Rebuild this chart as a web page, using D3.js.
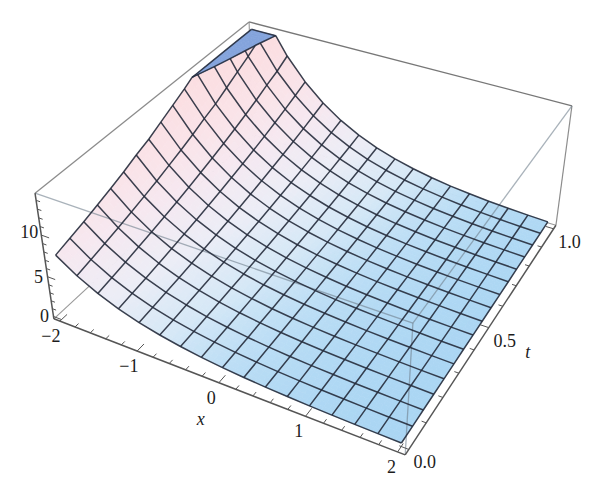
<!DOCTYPE html>
<html><head><meta charset="utf-8">
<script src="https://cdn.jsdelivr.net/npm/d3@7/dist/d3.min.js"></script>
<style>html,body{margin:0;padding:0;background:#fff}svg{display:block}
text{font-family:"Liberation Serif","Times New Roman",serif;font-size:18px;fill:#1c1c1c}</style>
</head><body><svg id="c" width="600" height="493"></svg>
<script>
// ---- data ----
const xValues=[-2,-1.75,-1.5,-1.25,-1,-0.75,-0.5,-0.25,0,0.25,0.5,0.75,1,1.25,1.5,1.75,2];
const tValues=[0,0.0625,0.125,0.1875,0.25,0.3125,0.375,0.4375,0.5,0.5625,0.625,0.6875,0.75,0.8125,0.875,0.9375,1];
const zRows=[
[7.39,5.75,4.48,3.49,2.72,2.12,1.65,1.28,1,.779,.607,.472,.368,.287,.223,.174,.135],
[7.87,6.13,4.77,3.72,2.89,2.25,1.75,1.37,1.06,.829,.646,.503,.392,.305,.237,.185,.144],
[8.37,6.52,5.08,3.96,3.08,2.40,1.87,1.46,1.13,.882,.687,.535,.417,.325,.253,.197,.153],
[8.92,6.94,5.41,4.21,3.28,2.55,1.99,1.55,1.21,.939,.732,.570,.444,.346,.269,.210,.163],
[9.49,7.39,5.75,4.48,3.49,2.72,2.12,1.65,1.28,1,.779,.607,.472,.368,.287,.223,.174],
[10.1,7.87,6.13,4.77,3.72,2.89,2.25,1.75,1.37,1.06,.829,.646,.503,.392,.305,.237,.185],
[10.8,8.37,6.52,5.08,3.96,3.08,2.40,1.87,1.46,1.13,.882,.687,.535,.417,.325,.253,.197],
[11.4,8.92,6.94,5.41,4.21,3.28,2.55,1.99,1.55,1.21,.939,.732,.570,.444,.346,.269,.210],
[12.2,9.49,7.39,5.75,4.48,3.49,2.72,2.12,1.65,1.28,1,.779,.607,.472,.368,.287,.223],
[13.0,10.1,7.87,6.13,4.77,3.72,2.89,2.25,1.75,1.37,1.06,.829,.646,.503,.392,.305,.237],
[13.8,10.8,8.37,6.52,5.08,3.96,3.08,2.40,1.87,1.46,1.13,.882,.687,.535,.417,.325,.253],
[14.7,11.4,8.92,6.94,5.41,4.21,3.28,2.55,1.99,1.55,1.21,.939,.732,.570,.444,.346,.269],
[15.7,12.2,9.49,7.39,5.75,4.48,3.49,2.72,2.12,1.65,1.28,1,.779,.607,.472,.368,.287],
[16.7,13.0,10.1,7.87,6.13,4.77,3.72,2.89,2.25,1.75,1.37,1.06,.829,.646,.503,.392,.305],
[17.7,13.8,10.8,8.37,6.52,5.08,3.96,3.08,2.40,1.87,1.46,1.13,.882,.687,.535,.417,.325],
[18.9,14.7,11.4,8.92,6.94,5.41,4.21,3.28,2.55,1.99,1.55,1.21,.939,.732,.570,.444,.346],
[20.1,15.7,12.2,9.49,7.39,5.75,4.48,3.49,2.72,2.12,1.65,1.28,1,.779,.607,.472,.368]
];
const zClip=14.4;
const xTicks=[-2,-1,0,1,2];
const tTicks=[0,0.5,1];
const zTicks=[0,5,10];
const xMinor=d3.range(-2,2.01,0.2);
const tMinor=d3.range(0,1.01,0.1);
const zMinor=d3.range(0,15,1);
const xTickText=["\u22122","\u22121","0","1","2"];
const tTickText=["0.0","0.5","1.0"];
const zTickText=["0","5","10"];

// ---- scales and view ----
const X=d3.scaleLinear().domain([-2.08,2.08]).range([0,1]);
const T=d3.scaleLinear().domain([-0.02,1.02]).range([0,1]);
const Z=d3.scaleLinear().domain([-0.3,14.8]).range([0,1]);
// view calibration: cube corner (u,v,w) -> screen position
const view=[[0,0,0,54,319],[1,0,0,405,455],[1,1,0,556,225],[0,0,1,35,193],[1,0,1,413,323],[1,1,1,572,106],[0,1,1,249,22]];
function solveView(pts){
  const A=[],b=[];
  pts.forEach(([u,v,w,sx,sy])=>{
    const a=sx/600,c=sy/600;
    A.push([u,v,w,1,0,0,0,0,-a*u,-a*v,-a*w]);b.push(a);
    A.push([0,0,0,0,u,v,w,1,-c*u,-c*v,-c*w]);b.push(c);
  });
  const n=11,M=d3.range(n).map(i=>d3.range(n+1).map(j=>{
    let s=0;A.forEach((r,k)=>{s+=r[i]*(j<n?r[j]:b[k]);});return s;}));
  for(let i=0;i<n;i++){
    let p=i;for(let r=i+1;r<n;r++)if(Math.abs(M[r][i])>Math.abs(M[p][i]))p=r;
    [M[i],M[p]]=[M[p],M[i]];
    for(let r=0;r<n;r++)if(r!==i){const f=M[r][i]/M[i][i];for(let c=i;c<=n;c++)M[r][c]-=f*M[i][c];}
  }
  return M.map((r,i)=>r[n]/r[i]);
}
const P=solveView(view);
function projectN(u,v,w){
  const d=P[8]*u+P[9]*v+P[10]*w+1;
  return [600*(P[0]*u+P[1]*v+P[2]*w+P[3])/d,600*(P[4]*u+P[5]*v+P[6]*w+P[7])/d];
}
const project=(x,t,z)=>projectN(X(x),T(t),Z(z));
const pp=p=>project(p.x,p.t,p.z);

const colour=d3.scaleLinear()
  .domain([0.1,1,2,4,7,10,15])
  .range(["#a9d5f3","#bddef5","#d6e8f6","#ecedf6","#f6e8f0","#fae3e8","#fbdde0"])
  .interpolate(d3.interpolateRgb).clamp(true);

const svg=d3.select("#c");
const line=d3.line();
const edge=(g,a,b,col,w,op)=>g.append("path").attr("d",line([projectN(...a),projectN(...b)]))
  .attr("fill","none").attr("stroke",col).attr("stroke-width",w).attr("stroke-opacity",op);

// back box edges
const back=svg.append("g");
edge(back,[0,0,0],[0,1,0],"#999",1.1,1);
edge(back,[0,1,0],[1,1,0],"#999",1.1,1);
edge(back,[0,1,0],[0,1,1],"#999",1.1,1);
edge(back,[0,0,1],[0,1,1],"#8c8c8c",1.3,1);
edge(back,[0,1,1],[1,1,1],"#777",1.3,1);
edge(back,[1,1,0],[1,1,1],"#8c8c8c",1.2,1);

// surface
const lerp=(a,b,s)=>({x:a.x+(b.x-a.x)*s,t:a.t+(b.t-a.t)*s,z:a.z+(b.z-a.z)*s});
function clipPoly(poly){
  const below=[],above=[];
  poly.forEach((p,k)=>{
    const q=poly[(k+1)%poly.length];
    const pIn=p.z<=zClip,qIn=q.z<=zClip;
    (pIn?below:above).push(p);
    if(pIn!==qIn){const c=lerp(p,q,(zClip-p.z)/(q.z-p.z));below.push(c);above.push(c);}
  });
  return {below,above};
}
const node=(i,j)=>({x:xValues[i],t:tValues[j],z:zRows[j][i]});
const sub=4;
const surf=svg.append("g");
const capCells=[];
for(let j=tValues.length-2;j>=0;j--){
  for(let i=0;i<xValues.length-1;i++){
    const a=node(i,j),b=node(i+1,j),c=node(i+1,j+1),d=node(i,j+1);
    const at=(s,r)=>lerp(lerp(a,b,s),lerp(d,c,s),r);
    for(let r=sub-1;r>=0;r--)for(let s=0;s<sub;s++){
      const poly=[at(s/sub,r/sub),at((s+1)/sub,r/sub),at((s+1)/sub,(r+1)/sub),at(s/sub,(r+1)/sub)];
      const {below,above}=clipPoly(poly);
      if(below.length>2){
        const mz=d3.mean(below,p=>p.z),col=colour(mz);
        surf.append("path").attr("d",line(below.map(pp))+"Z")
          .attr("fill",col).attr("stroke",col).attr("stroke-width",0.7);
      }
      if(above.length>2)capCells.push(above.map(p=>({x:p.x,t:p.t,z:zClip})));
    }
  }
}
const capG=svg.append("g");
capCells.forEach(poly=>capG.append("path").attr("d",line(poly.map(pp))+"Z")
  .attr("fill","#84a4dc").attr("stroke","#84a4dc").attr("stroke-width",0.7));

// see-through front box edges
const front=svg.append("g");
edge(front,[0,0,1],[1,0,1],"#6f7f8c",1.3,0.6);
edge(front,[1,0,1],[1,1,1],"#6f7f8c",1.3,0.6);
edge(front,[1,0,0],[1,0,1],"#6f7f8c",1.3,0.6);

// mesh
const meshG=svg.append("g").attr("fill","none").attr("stroke","#262c3c").attr("stroke-opacity",0.9)
  .attr("stroke-width",1.5).attr("stroke-linejoin","round");
function drawMesh(nodes,isBorder){
  let below=[],above=[];
  const flushB=()=>{if(below.length>1)meshG.append("path").attr("d",line(below.map(pp)));below=[];};
  const flushA=()=>{if(above.length>1&&isBorder)meshG.append("path").attr("d",line(above.map(p=>pp({x:p.x,t:p.t,z:zClip}))));above=[];};
  nodes.forEach((p,k)=>{
    const inside=p.z<=zClip;
    if(k>0){
      const q=nodes[k-1],qIn=q.z<=zClip;
      if(inside!==qIn){
        const c=lerp(q,p,(zClip-q.z)/(p.z-q.z));
        below.push(c);above.push(c);
        if(qIn)flushB();else flushA();
        if(qIn)above=[c];else below=[c];
      }
    }
    (inside?below:above).push(p);
  });
  flushB();flushA();
}
xValues.forEach((_,i)=>drawMesh(tValues.map((_,j)=>node(i,j)),i===0||i===xValues.length-1));
tValues.forEach((_,j)=>drawMesh(xValues.map((_,i)=>node(i,j)),j===0||j===tValues.length-1));
// clip boundary
(function(){
  const pts=[];
  tValues.forEach((_,j)=>{for(let i=0;i<xValues.length-1;i++){
    const a=node(i,j),b=node(i+1,j);
    if((a.z>zClip)!==(b.z>zClip))pts.push(lerp(a,b,(zClip-a.z)/(b.z-a.z)));}});
  xValues.forEach((_,i)=>{for(let j=0;j<tValues.length-1;j++){
    const a=node(i,j),b=node(i,j+1);
    if((a.z>zClip)!==(b.z>zClip))pts.push(lerp(a,b,(zClip-a.z)/(b.z-a.z)));}});
  pts.sort((p,q)=>p.x-q.x);
  meshG.append("path").attr("d",line(pts.map(pp)));
})();

// axes
const ax=svg.append("g");
edge(ax,[0,0,0],[1,0,0],"#555",1.5,1);
edge(ax,[1,0,0],[1,1,0],"#555",1.5,1);
edge(ax,[0,0,0],[0,0,1],"#555",1.5,1);
const tick=(a,b)=>ax.append("path").attr("d",line([projectN(...a),projectN(...b)]))
  .attr("stroke","#555").attr("stroke-width",1).attr("fill","none");
xMinor.forEach(v=>{const maj=xTicks.some(m=>Math.abs(m-v)<1e-6),l=maj?0.03:0.015;tick([X(v),0,0],[X(v),l,0]);});
tMinor.forEach(v=>{const maj=tTicks.some(m=>Math.abs(m-v)<1e-6),l=maj?0.024:0.012;tick([1,T(v),0],[1-l,T(v),0]);});
zMinor.forEach(v=>{const maj=zTicks.includes(v),l=maj?0.024:0.012;tick([0,0,Z(v)],[l,0,Z(v)]);});

// labels
const label=(p,dx,dy,s,it)=>svg.append("text").attr("x",p[0]+dx).attr("y",p[1]+dy)
  .attr("text-anchor","middle").attr("dominant-baseline","central")
  .attr("font-style",it?"italic":null).text(s);
const xDx=d3.scaleLinear().domain([-2,2]).range([-9,-6]);
xTicks.forEach((v,k)=>{label(project(v,-0.02,-0.3),xDx(v),15,xTickText[k]);});
tTicks.forEach((v,k)=>{label(project(2.08,v,-0.3),16,13,tTickText[k]);});
const zDx=[-9,-9,-12],zDy=[0,0,-3];
zTicks.forEach((v,k)=>{label(project(-2.08,-0.02,v),zDx[k],zDy[k],zTickText[k]);});
label(project(0,-0.02,-0.3),-18,36,"x",true);
label(project(2.08,0.5,-0.3),39,24,"t",true);
</script></body></html>
